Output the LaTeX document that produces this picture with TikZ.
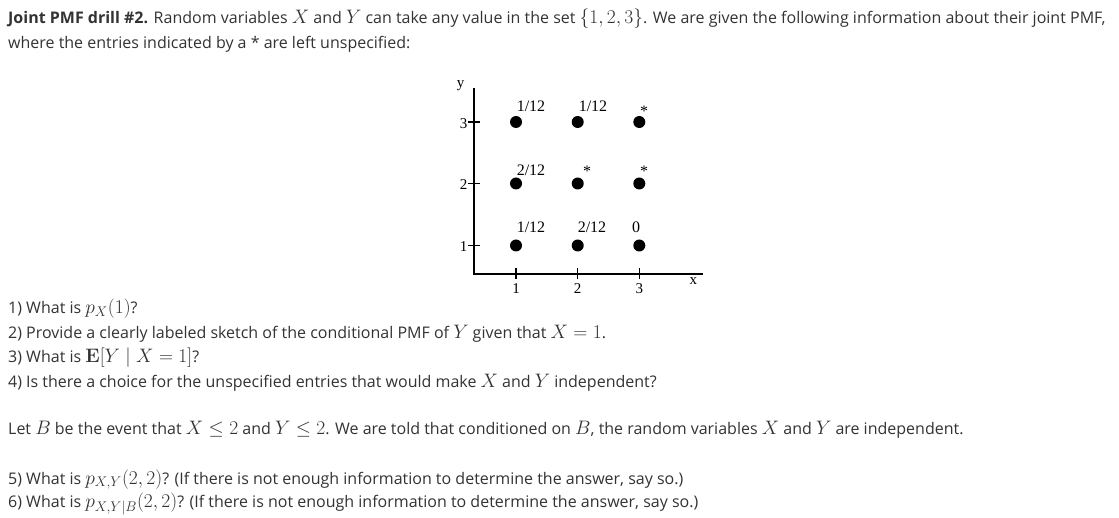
\documentclass[tikz,border=0pt]{standalone}
\usepackage{fix-cm}
\usepackage{amsmath}
\usepackage[no-math]{fontspec}
\setmainfont{Open Sans}
\newfontfamily\diagfont{Liberation Serif}
\DeclareMathSizes{16}{19.5}{14}{10}
\definecolor{txt}{HTML}{333333}
\begin{document}
\begin{tikzpicture}[x=1pt,y=-1pt,
  line/.style={anchor=base west,inner sep=0pt,text=txt,font=\fontsize{16}{18}\selectfont},
  val/.style={anchor=base,inner sep=0pt,font=\diagfont\fontsize{16}{18}\selectfont},
  tick/.style={inner sep=0pt,font=\diagfont\fontsize{15}{17}\selectfont},
  dot/.style={circle,fill=black,minimum size=12pt,inner sep=0pt},
  axis/.style={line width=1.2pt}]
\useasboundingbox (0,0) rectangle (1119,518);
\fill[white] (0,0) rectangle (1119,518);
% text
\node[line] (t1) at (8,23.5) {\textbf{Joint PMF drill \#2.} Random variables $X$ and $Y$ can take any value in the set $\{1,2,3\}$. We are given the following information about their joint PMF,};
\node[line] (t2) at (8,49) {where the entries indicated by a * are left unspecified:};
\node[line] (q1) at (8,314) {1) What is $p_X(1)$?};
\node[line] (q2) at (8,338.5) {2) Provide a clearly labeled sketch of the conditional PMF of $Y$ given that $X=1$.};
\node[line] (q3) at (8,363) {3) What is $\mathbf{E}[Y\mid X=1]$?};
\node[line] (q4) at (8,387.5) {4) Is there a choice for the unspecified entries that would make $X$ and $Y$ independent?};
\node[line] (lb) at (8,435) {Let $B$ be the event that $X\leq 2$ and $Y\leq 2$. We are told that conditioned on $B$, the random variables $X$ and $Y$ are independent.};
\node[line] (q5) at (8,484) {5) What is $p_{X,Y}(2,2)$? (If there is not enough information to determine the answer, say so.)};
\node[line] (q6) at (8,507.5) {6) What is $p_{X,Y|B}(2,2)$? (If there is not enough information to determine the answer, say so.)};
% axes
\coordinate (ytop) at (474,88);
\coordinate (org) at (474,274);
\coordinate (xend) at (703,274);
\draw[axis] (ytop) -- (org) -- (xend);
\foreach \yy/\lab/\b in {122/3/128.3,183.5/2/190,245.5/1/251.7}{
  \draw[axis] (468,\yy) -- (480,\yy);
  \node[tick,anchor=base east] (yl\lab) at (467.5,\b) {\lab};
}
\foreach \xx/\lab in {516/1,577.7/2,639.3/3}{
  \draw[axis] (\xx,268.5) -- (\xx,279.5);
  \node[tick,anchor=base] (xl\lab) at (\xx,293.3) {\lab};
}
\node[tick,anchor=base] (xlab) at (693.3,285) {x};
\node[tick,anchor=base] (ylab) at (460.7,87.5) {y};
% dots
\foreach \xx/\i in {516/1,577.7/2,639.3/3}{
  \foreach \yy/\j in {122/3,183.5/2,245.5/1}{
    \node[dot] (d\i\j) at (\xx,\yy) {};
  }
}
% values
\node[val] (v13) at (531,111.7) {1/12};
\node[val] (v23) at (593,111.7) {1/12};
\node[val] (v33) at (644,116.5) {*};
\node[val] (v12) at (531,175.3) {2/12};
\node[val] (v22) at (587,177) {*};
\node[val] (v32) at (644,177) {*};
\node[val] (v11) at (531,232.7) {1/12};
\node[val] (v21) at (592,232.7) {2/12};
\node[val] (v31) at (636,232.7) {0};
\end{tikzpicture}
\end{document}
